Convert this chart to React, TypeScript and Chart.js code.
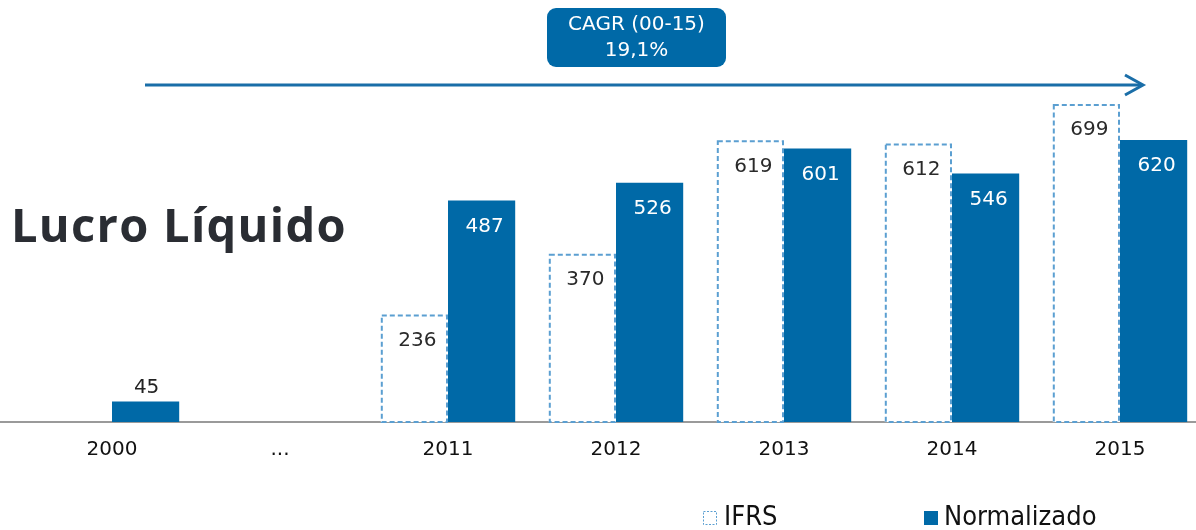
import React, { useEffect, useRef } from "react";
import { Chart, registerables } from "chart.js";

Chart.register(...registerables);

const categories = ["2000", "...", "2011", "2012", "2013", "2014", "2015"];
const ifrsValues: (number | null)[] = [null, null, 236, 370, 619, 612, 699];
const normalizadoValues: (number | null)[] = [45, null, 487, 526, 601, 546, 620];
const seriesNames = ["IFRS", "Normalizado"];
const titleText = "Lucro Líquido";
const cagrLines = ["CAGR (00-15)", "19,1%"];
const yMax = 800;

const BLUE = "#0069a7";
const DASH_BLUE = "#5b9fd1";
const NUM_FONT = '"DejaVu Sans", Verdana, sans-serif';
const LEG_FONT = '"DejaVu Sans Condensed", "DejaVu Sans", sans-serif';

const decorPlugin = {
  id: "decor",
  beforeDatasetsDraw(chart: any) {
    const ctx = chart.ctx;
    const y0 = chart.scales.y.getPixelForValue(0);
    ctx.save();
    ctx.strokeStyle = "#9a9a9a";
    ctx.lineWidth = 2;
    ctx.beginPath();
    ctx.moveTo(0, y0);
    ctx.lineTo(chart.width, y0);
    ctx.stroke();
    ctx.restore();
  },
  afterDatasetsDraw(chart: any) {
    const ctx = chart.ctx;
    const m0 = chart.getDatasetMeta(0);
    const m1 = chart.getDatasetMeta(1);
    ctx.save();
    ctx.setLineDash([5, 3]);
    ctx.strokeStyle = DASH_BLUE;
    ctx.lineWidth = 2;
    m0.data.forEach((el: any, i: number) => {
      if (ifrsValues[i] == null) return;
      const p = el.getProps(["x", "y", "base", "width"], true);
      ctx.strokeRect(p.x - p.width / 2 + 1, p.y + 1, p.width - 2, p.base - p.y - 1);
    });
    ctx.restore();

    ctx.save();
    ctx.font = `20px ${NUM_FONT}`;
    ctx.textAlign = "center";
    ctx.textBaseline = "middle";
    const drawLabels = (meta: any, vals: (number | null)[], inside: string) => {
      meta.data.forEach((el: any, i: number) => {
        const v = vals[i];
        if (v == null) return;
        const p = el.getProps(["x", "y", "base"], true);
        if (p.base - p.y < 50) {
          ctx.fillStyle = "#222";
          ctx.fillText(String(v), p.x + 1, p.y - 14);
        } else {
          ctx.fillStyle = inside;
          ctx.fillText(String(v), p.x + 3, p.y + 26);
        }
      });
    };
    drawLabels(m0, ifrsValues, "#2a2a2a");
    drawLabels(m1, normalizadoValues, "#ffffff");
    ctx.restore();
  },
  afterDraw(chart: any) {
    const ctx = chart.ctx;
    ctx.save();
    // title
    ctx.fillStyle = "#2a2d33";
    ctx.font = `bold 47px "Open Sans", sans-serif`;
    (ctx as any).letterSpacing = "1.3px";
    ctx.textAlign = "left";
    ctx.textBaseline = "middle";
    ctx.fillText(titleText, 11, 229);
    (ctx as any).letterSpacing = "0px";

    // CAGR box
    const bx = 547, by = 8, bw = 179, bh = 59;
    ctx.fillStyle = BLUE;
    ctx.beginPath();
    (ctx as any).roundRect(bx, by, bw, bh, 9);
    ctx.fill();
    ctx.fillStyle = "#ffffff";
    ctx.font = `20px ${NUM_FONT}`;
    ctx.textAlign = "center";
    ctx.fillText(cagrLines[0], bx + bw / 2, 25);
    ctx.fillText(cagrLines[1], bx + bw / 2, 51);

    // arrow
    ctx.strokeStyle = "#1a6ea8";
    ctx.lineWidth = 3;
    ctx.beginPath();
    ctx.moveTo(145, 85);
    ctx.lineTo(1142, 85);
    ctx.stroke();
    ctx.beginPath();
    ctx.moveTo(1125, 75);
    ctx.lineTo(1143, 85);
    ctx.lineTo(1125, 95);
    ctx.stroke();

    // legend
    ctx.font = `27px ${LEG_FONT}`;
    ctx.textAlign = "left";
    ctx.textBaseline = "middle";
    ctx.fillStyle = "#ffffff";
    ctx.fillRect(703, 511, 13, 13);
    ctx.setLineDash([2, 1.5]);
    ctx.strokeStyle = DASH_BLUE;
    ctx.lineWidth = 1;
    ctx.strokeRect(703.5, 511.5, 13, 13);
    ctx.setLineDash([]);
    ctx.fillStyle = "#111";
    ctx.fillText(seriesNames[0], 724, 518);
    ctx.fillStyle = BLUE;
    ctx.fillRect(924, 511, 14, 14);
    ctx.fillStyle = "#111";
    ctx.fillText(seriesNames[1], 944, 518);
    ctx.restore();
  },
};

export default function App() {
  const ref = useRef<HTMLCanvasElement | null>(null);
  useEffect(() => {
    if (!ref.current) return;
    const chart = new Chart(ref.current, {
      type: "bar",
      data: {
        labels: categories,
        datasets: [
          {
            label: seriesNames[0],
            data: ifrsValues,
            backgroundColor: "#ffffff",
            borderWidth: 0,
            categoryPercentage: 0.8,
            barPercentage: 1.0,
          },
          {
            label: seriesNames[1],
            data: normalizadoValues,
            backgroundColor: BLUE,
            borderWidth: 0,
            categoryPercentage: 0.8,
            barPercentage: 1.0,
          },
        ],
      },
      options: {
        responsive: false,
        animation: false,
        devicePixelRatio: 1,
        layout: { padding: { left: 28, right: 6, top: 58, bottom: 60 } },
        plugins: {
          legend: { display: false },
          tooltip: { enabled: false },
        },
        scales: {
          x: {
            grid: { display: false },
            border: { display: false },
            ticks: {
              padding: 8,
              color: "#111",
              font: { family: NUM_FONT, size: 20 },
              maxRotation: 0,
              autoSkip: false,
            },
          },
          y: {
            display: false,
            min: 0,
            max: yMax,
          },
        },
      },
      plugins: [decorPlugin],
    });
    return () => chart.destroy();
  }, []);
  return (
    <div style={{ position: "fixed", left: 0, top: 0, width: 1196, height: 530, overflow: "hidden", background: "#fff" }}>
      <canvas ref={ref} width={1210} height={530} style={{ display: "block" }} />
    </div>
  );
}
